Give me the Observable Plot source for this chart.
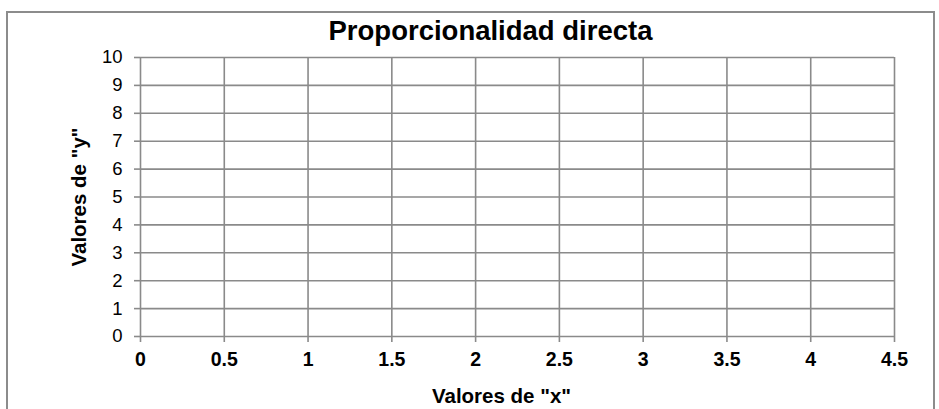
<!DOCTYPE html>
<html>
<head>
<meta charset="utf-8">
<script src="https://cdn.jsdelivr.net/npm/d3@7"></script>
<script src="https://cdn.jsdelivr.net/npm/@observablehq/plot@0.6"></script>
<style>
  html, body { margin: 0; padding: 0; background: #fff; }
  #wrap { position: relative; width: 939px; height: 409px; overflow: hidden; }
  #border { position: absolute; left: 6px; top: 11px; width: 929px; height: 420px; border: 2px solid #8c8c8c; box-sizing: border-box; pointer-events: none; }
  svg { display: block; font-family: "Liberation Sans", Arial, sans-serif; }
  g[aria-label="y-axis tick label"] { font-size: 18.5px; }
  g[aria-label="x-axis tick label"] { font-size: 19.5px; font-weight: bold; }
</style>
</head>
<body>
<div id="wrap"><div id="border"></div></div>
<script>
const title = "Proporcionalidad directa";
const xLabel = 'Valores de "x"';
const yLabel = 'Valores de "y"';
const xTicks = [0, 0.5, 1, 1.5, 2, 2.5, 3, 3.5, 4, 4.5];
const yTicks = [0, 1, 2, 3, 4, 5, 6, 7, 8, 9, 10];
const xDomain = [0, 4.5];
const yDomain = [0, 10];

const gridColor = "#8a8a8a";
const chart = Plot.plot({
  width: 939,
  height: 409,
  marginLeft: 140,
  marginRight: 45,
  marginTop: 57,
  marginBottom: 73,
  style: { fontFamily: '"Liberation Sans", Arial, sans-serif', background: "transparent", color: "#000" },
  x: { domain: xDomain, label: null },
  y: { domain: yDomain, label: null },
  marks: [
    Plot.gridX(xTicks, { stroke: gridColor, strokeOpacity: 1, strokeWidth: 1.6 }),
    Plot.gridY(yTicks, { stroke: gridColor, strokeOpacity: 1, strokeWidth: 1.6 }),
    Plot.axisX(xTicks, {
      tickSize: 6, tickPadding: 10, stroke: gridColor, strokeWidth: 1.6,
      fontSize: 19.5, fontWeight: "bold", fill: "#000", tickFormat: d => String(d)
    }),
    Plot.axisY(yTicks, {
      tickSize: 6, tickPadding: 12, stroke: gridColor, strokeWidth: 1.6,
      fontSize: 18.5, fill: "#000", tickFormat: d => String(d)
    }),
    Plot.text([title], {
      frameAnchor: "top", lineAnchor: "middle", dx: -27, dy: -26.5,
      fontSize: 27.5, fontWeight: "bold", fill: "#000"
    }),
    Plot.text([xLabel], {
      frameAnchor: "bottom", lineAnchor: "middle", dx: -16, dy: 59.5,
      fontSize: 20.5, fontWeight: "bold", fill: "#000"
    }),
    Plot.text([yLabel], {
      frameAnchor: "left", textAnchor: "middle", lineAnchor: "middle", rotate: -90, dx: -61, dy: 0,
      fontSize: 20.5, fontWeight: "bold", fill: "#000"
    })
  ]
});
document.getElementById("wrap").prepend(chart);
</script>
</body>
</html>
